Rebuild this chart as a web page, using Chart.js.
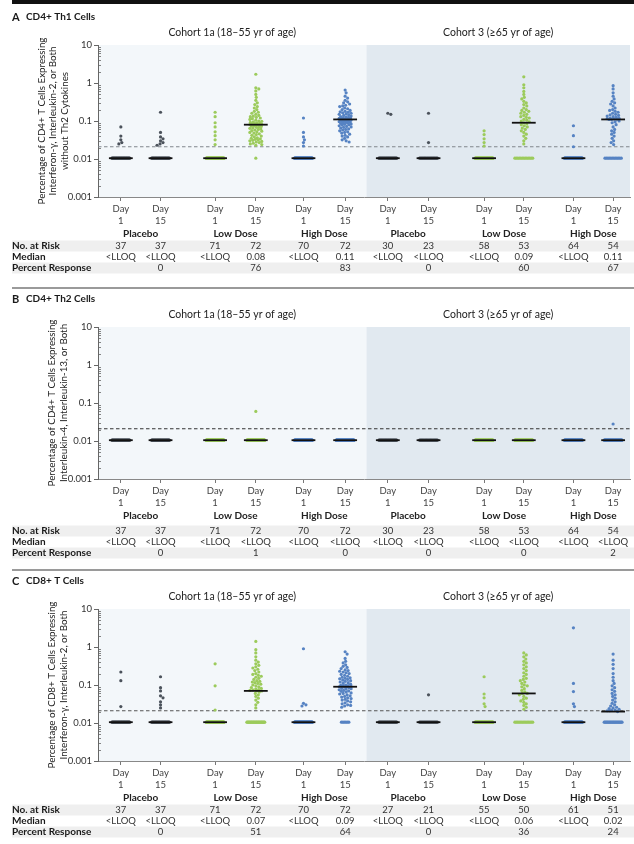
<!DOCTYPE html>
<html><head><meta charset="utf-8">
<script src="https://cdn.jsdelivr.net/npm/chart.js@4/dist/chart.umd.min.js"></script>
<style>
html,body{margin:0;padding:0;background:#fff;}
#wrap{position:relative;width:634px;height:844px;overflow:hidden;}
canvas{position:absolute;left:0;}
</style></head><body>
<div id="wrap">
<canvas id="cA" width="634" height="282" style="top:0px"></canvas>
<canvas id="cB" width="634" height="282" style="top:282px"></canvas>
<canvas id="cC" width="634" height="280" style="top:564px"></canvas>
</div>
<script>
// ---------------- DATA ----------------
const COHORTS = ['Cohort 1a (18\u201355 yr of age)', 'Cohort 3 (\u226565 yr of age)'];
const GROUPS = ['Placebo', 'Low Dose', 'High Dose'];
const DAYS = ['1', '15'];
const Y_TICKS = [0.001, 0.01, 0.1, 1, 10];
const LLOQ = 0.021;        // dashed line
const LLOQ_PLOT = 0.0105;  // level at which <LLOQ values are shown
const ROW_LABELS = ['No. at Risk', 'Median', 'Percent Response'];

// Panel A
const A_TITLE = 'CD4+ Th1 Cells';
const A_YTITLE = ['Percentage of CD4+ T Cells Expressing', 'Interferon-\u03b3, Interleukin-2, or Both', 'without Th2 Cytokines'];
const A_AT_RISK = [37, 37, 71, 72, 70, 72, 30, 23, 58, 53, 64, 54];
const A_MEDIAN = ['<LLOQ', '<LLOQ', '<LLOQ', '0.08', '<LLOQ', '0.11', '<LLOQ', '<LLOQ', '<LLOQ', '0.09', '<LLOQ', '0.11'];
const A_RESPONSE = ['', '0', '', '76', '', '83', '', '0', '', '60', '', '67'];
// values above LLOQ per category (remaining subjects are <LLOQ)
const A_ABOVE = [
  [0.07, 0.04, 0.032, 0.027, 0.025],
  [0.17, 0.05, 0.038, 0.034, 0.03, 0.027, 0.025, 0.023],
  [0.17, 0.13, 0.09, 0.07, 0.052, 0.041, 0.032, 0.024],
  [1.7, 0.75, 0.7, 0.62, 0.5, 0.42, 0.35, 0.3, 0.27, 0.24, 0.22, 0.2, 0.18, 0.17, 0.16, 0.15, 0.14, 0.135, 0.13, 0.125, 0.12, 0.115, 0.11, 0.105, 0.1, 0.098, 0.095, 0.092, 0.09, 0.088, 0.086, 0.084, 0.082, 0.081, 0.08, 0.08,
   0.078, 0.076, 0.074, 0.072, 0.07, 0.068, 0.066, 0.064, 0.062, 0.06, 0.058, 0.056, 0.054, 0.052, 0.05, 0.048, 0.046, 0.044, 0.042, 0.04, 0.038, 0.036, 0.035, 0.034, 0.033, 0.032, 0.031, 0.03, 0.029, 0.028, 0.027, 0.026, 0.025, 0.024, 0.023],
  [0.12, 0.05, 0.038, 0.032, 0.027, 0.022],
  [0.65, 0.55, 0.45, 0.4, 0.35, 0.32, 0.3, 0.28, 0.26, 0.25, 0.24, 0.22, 0.21, 0.2, 0.19, 0.18, 0.175, 0.17, 0.165, 0.16, 0.155, 0.15, 0.145, 0.14, 0.135, 0.13, 0.128, 0.125, 0.122, 0.12, 0.118, 0.116, 0.114, 0.112, 0.11, 0.11,
   0.108, 0.106, 0.104, 0.102, 0.1, 0.098, 0.096, 0.094, 0.092, 0.09, 0.088, 0.086, 0.084, 0.082, 0.08, 0.078, 0.075, 0.072, 0.07, 0.068, 0.065, 0.062, 0.06, 0.058, 0.055, 0.052, 0.05, 0.048, 0.045, 0.042, 0.04, 0.038, 0.035, 0.032, 0.03, 0.028],
  [0.16, 0.15],
  [0.16, 0.027],
  [0.055, 0.044, 0.034, 0.027, 0.022],
  [1.45, 0.9, 0.75, 0.6, 0.5, 0.42, 0.38, 0.33, 0.3, 0.27, 0.25, 0.22, 0.2, 0.19, 0.18, 0.17, 0.16, 0.15, 0.14, 0.13, 0.125, 0.12, 0.11, 0.105, 0.1, 0.095, 0.09,
   0.085, 0.08, 0.075, 0.07, 0.065, 0.06, 0.055, 0.05, 0.045, 0.04, 0.035, 0.03, 0.025],
  [0.075, 0.041, 0.021],
  [0.85, 0.7, 0.55, 0.45, 0.38, 0.33, 0.3, 0.28, 0.25, 0.22, 0.2, 0.19, 0.18, 0.17, 0.16, 0.15, 0.145, 0.14, 0.135, 0.13, 0.125, 0.12, 0.118, 0.115, 0.113, 0.112, 0.11, 0.11,
   0.1, 0.095, 0.09, 0.08, 0.07, 0.06, 0.055, 0.05, 0.045, 0.04, 0.035, 0.03, 0.027, 0.024]
];

// Panel B
const B_TITLE = 'CD4+ Th2 Cells';
const B_YTITLE = ['Percentage of CD4+ T Cells Expressing', 'Interleukin-4, Interleukin-13, or Both'];
const B_AT_RISK = [37, 37, 71, 72, 70, 72, 30, 23, 58, 53, 64, 54];
const B_MEDIAN = ['<LLOQ', '<LLOQ', '<LLOQ', '<LLOQ', '<LLOQ', '<LLOQ', '<LLOQ', '<LLOQ', '<LLOQ', '<LLOQ', '<LLOQ', '<LLOQ'];
const B_RESPONSE = ['', '0', '', '1', '', '0', '', '0', '', '0', '', '2'];
const B_ABOVE = [[], [], [], [0.06], [], [], [], [], [], [], [], [0.028]];

// Panel C
const C_TITLE = 'CD8+ T Cells';
const C_YTITLE = ['Percentage of CD8+ T Cells Expressing', 'Interferon-\u03b3, Interleukin-2, or Both'];
const C_AT_RISK = [37, 37, 71, 72, 70, 72, 27, 21, 55, 50, 61, 51];
const C_MEDIAN = ['<LLOQ', '<LLOQ', '<LLOQ', '0.07', '<LLOQ', '0.09', '<LLOQ', '<LLOQ', '<LLOQ', '0.06', '<LLOQ', '0.02'];
const C_RESPONSE = ['', '0', '', '51', '', '64', '', '0', '', '36', '', '24'];
const C_ABOVE = [
  [0.22, 0.13, 0.027],
  [0.165, 0.085, 0.07, 0.052, 0.046, 0.036, 0.03, 0.025],
  [0.36, 0.095, 0.022],
  [1.4, 0.85, 0.7, 0.55, 0.45, 0.4, 0.36, 0.33, 0.3, 0.28, 0.26, 0.24, 0.22, 0.2, 0.19, 0.18, 0.17, 0.16, 0.15, 0.14, 0.13, 0.125, 0.12, 0.115, 0.11, 0.105, 0.1, 0.095, 0.09, 0.086, 0.082, 0.079, 0.076, 0.074, 0.072, 0.07,
   0.07, 0.065, 0.06, 0.055, 0.05, 0.045, 0.04, 0.035, 0.03, 0.025],
  [0.9, 0.033, 0.03, 0.028],
  [0.75, 0.65, 0.5, 0.42, 0.38, 0.34, 0.31, 0.29, 0.27, 0.25, 0.24, 0.23, 0.22, 0.21, 0.2, 0.19, 0.18, 0.17, 0.16, 0.155, 0.15, 0.145, 0.14, 0.135, 0.13, 0.125, 0.12, 0.115, 0.11, 0.105, 0.1, 0.098, 0.096, 0.094, 0.092, 0.09,
   0.09, 0.088, 0.085, 0.082, 0.08, 0.078, 0.075, 0.072, 0.07, 0.068, 0.065, 0.062, 0.06, 0.058, 0.055, 0.052, 0.05, 0.048, 0.046, 0.044, 0.042, 0.04, 0.038, 0.036, 0.034, 0.032, 0.03, 0.029, 0.028, 0.026],
  [],
  [0.055],
  [0.165, 0.058, 0.046, 0.032, 0.027],
  [0.7, 0.62, 0.55, 0.48, 0.42, 0.38, 0.34, 0.3, 0.27, 0.24, 0.21, 0.19, 0.17, 0.15, 0.14, 0.13, 0.12, 0.11, 0.1, 0.095, 0.09, 0.08, 0.072, 0.066,
   0.06, 0.06, 0.055, 0.05, 0.045, 0.042, 0.038, 0.035, 0.032, 0.029, 0.026, 0.023],
  [3.2, 0.11, 0.067, 0.032, 0.027],
  [0.65, 0.45, 0.35, 0.27, 0.2, 0.16, 0.13, 0.11, 0.095, 0.085, 0.075, 0.068, 0.06, 0.055, 0.05, 0.045, 0.04, 0.036, 0.033, 0.03, 0.028, 0.026, 0.025, 0.024, 0.023, 0.022,
   0.022, 0.021, 0.021, 0.02]
];

// ---------------- LAYOUT / STYLE ----------------
const FONT = 'Lato, "Open Sans", "DejaVu Sans", sans-serif';
const X_MAX = 536;                       // x units == pixels of plot width
const CAT_X = [23, 63, 118, 159, 207, 249, 292, 333, 389, 429, 479, 519]; // category centres
const GROUP_COLORS = ['#4b525b', '#9ccb5c', '#5683c3'];
const BG_LEFT = '#f3f7fa', BG_RIGHT = '#e1e9f0';
const MED_HALF = 12;
const DOT_R = 1.6;
const PX_PER_DECADE = 37.9; // only for collision spacing of the swarm

Chart.defaults.font.family = FONT;

function groupOf(i) { return Math.floor((i % 6) / 2); }

function swarm(vals, nLow, cx) {
  const out = [];
  const placed = [];
  const sorted = vals.slice().sort((a, b) => b - a);
  const DMIN = 2.9;
  for (const v of sorted) {
    const yp = -Math.log10(v) * PX_PER_DECADE;
    let best = 0, bestD = -1;
    for (let k = 0; k <= 24; k++) {
      const dx = (k % 2 ? 1 : -1) * Math.ceil(k / 2) * 0.5;
      let md = Infinity;
      for (const p of placed) {
        const d = Math.hypot(p[0] - dx, p[1] - yp);
        if (d < md) md = d;
      }
      if (md >= DMIN) { best = dx; bestD = md; break; }
      if (md > bestD) { bestD = md; best = dx; }
    }
    placed.push([best, yp]);
    out.push({ x: cx + best, y: v });
  }
  const spread = Math.min(18, 1.5 * Math.max(0, nLow - 1));
  for (let j = 0; j < nLow; j++) {
    const dx = nLow === 1 ? 0 : -spread / 2 + spread * j / (nLow - 1);
    out.push({ x: cx + dx, y: LLOQ_PLOT });
  }
  return out;
}

function buildDatasets(above, atRisk, median, dashColor) {
  const ds = [];
  median.forEach((m, i) => {
    const y = m === '<LLOQ' ? LLOQ_PLOT : parseFloat(m);
    ds.push({ data: [{ x: CAT_X[i] - MED_HALF, y }, { x: CAT_X[i] + MED_HALF, y }],
      showLine: true, borderColor: '#111', borderWidth: 1.8, pointRadius: 0, order: 0 });
  });
  ds.push({ data: [{ x: 0, y: LLOQ }, { x: X_MAX, y: LLOQ }], showLine: true, borderColor: dashColor,
    borderWidth: 1, borderDash: [3.5, 2.5], pointRadius: 0, order: 3 });
  above.forEach((vals, i) => {
    const nLow = atRisk[i] - vals.length;
    ds.push({ data: swarm(vals, nLow, CAT_X[i]), showLine: false, pointRadius: DOT_R,
      pointBackgroundColor: GROUP_COLORS[groupOf(i)], pointBorderWidth: 0, order: 1 });
  });
  return ds;
}

function makePanel(id, cfg) {
  const canvas = document.getElementById(id);
  const H = canvas.height;
  const deco = {
    id: 'deco' + id,
    beforeDraw(chart) {
      const { ctx, chartArea: ca, scales: { x } } = chart;
      ctx.save();
      ctx.fillStyle = '#fff'; ctx.fillRect(0, 0, chart.width, chart.height);
      const split = (x.getPixelForValue(CAT_X[5]) + x.getPixelForValue(CAT_X[6])) / 2;
      ctx.fillStyle = BG_LEFT; ctx.fillRect(ca.left, ca.top, split - ca.left, ca.bottom - ca.top);
      ctx.fillStyle = BG_RIGHT; ctx.fillRect(split, ca.top, ca.right - split, ca.bottom - ca.top);
      ctx.restore();
    },
    afterDraw(chart) {
      const { ctx, chartArea: ca, scales: { x, y } } = chart;
      const split = (x.getPixelForValue(CAT_X[5]) + x.getPixelForValue(CAT_X[6])) / 2;
      ctx.save();
      // top rule
      if (cfg.topBlack) { ctx.fillStyle = '#111'; ctx.fillRect(12, 0, 622, 4); }
      else { ctx.fillStyle = '#9a9a9a'; ctx.fillRect(12, 5, 622, 2); }
      // title
      ctx.fillStyle = '#1a1a1a'; ctx.textBaseline = 'middle'; ctx.textAlign = 'left';
      ctx.font = 'bold 11px ' + FONT; ctx.fillText(cfg.letter, 12, 17);
      ctx.font = 'bold 10px ' + FONT; ctx.fillText(cfg.title, 26, 17);
      // cohort headers
      ctx.font = '10.5px ' + FONT; ctx.textAlign = 'center'; ctx.fillStyle = '#222';
      ctx.fillText(COHORTS[0], (ca.left + split) / 2, 33);
      ctx.fillText(COHORTS[1], (split + ca.right) / 2, 33);
      // y title
      const midY = (ca.top + ca.bottom) / 2;
      ctx.font = '9.8px ' + FONT;
      const n = cfg.yTitle.length;
      cfg.yTitle.forEach((line, j) => {
        ctx.save();
        ctx.translate(cfg.yTitleX - (n - 1 - j) * 11.8, midY);
        ctx.rotate(-Math.PI / 2);
        ctx.fillText(line, 0, 0);
        ctx.restore();
      });
      // minor ticks on log axis
      ctx.strokeStyle = '#666'; ctx.lineWidth = 0.8;
      ctx.beginPath();
      for (let d = 0; d < Y_TICKS.length - 1; d++) {
        for (let k = 2; k <= 9; k++) {
          const py = Math.round(y.getPixelForValue(Y_TICKS[d] * k)) + 0.5;
          ctx.moveTo(ca.left, py); ctx.lineTo(ca.left + 3, py);
        }
      }
      ctx.stroke();
      // group labels
      ctx.font = 'bold 10px ' + FONT; ctx.fillStyle = '#222';
      for (let g = 0; g < 6; g++) {
        const cx = (x.getPixelForValue(CAT_X[2 * g]) + x.getPixelForValue(CAT_X[2 * g + 1])) / 2;
        ctx.fillText(GROUPS[g % 3], cx, ca.bottom + 37);
      }
      // table
      const rows = [cfg.atRisk.map(String), cfg.median, cfg.response];
      rows.forEach((vals, r) => {
        const ry = ca.bottom + cfg.tableOffset + r * 11;
        if (r !== 1) { ctx.fillStyle = '#efefef'; ctx.fillRect(12, ry - 5.5, 622, 11); }
      });
      rows.forEach((vals, r) => {
        const ry = ca.bottom + cfg.tableOffset + r * 11;
        ctx.fillStyle = '#1a1a1a'; ctx.font = 'bold 10px ' + FONT; ctx.textAlign = 'left';
        ctx.fillText(ROW_LABELS[r], 12, ry);
        ctx.fillStyle = '#333'; ctx.font = '9.5px ' + FONT; ctx.textAlign = 'center';
        vals.forEach((v, i) => { if (v !== '') ctx.fillText(v, x.getPixelForValue(CAT_X[i]), ry); });
      });
      ctx.restore();
    }
  };
  return new Chart(canvas, {
    type: 'scatter',
    data: { datasets: buildDatasets(cfg.above, cfg.atRisk, cfg.median, cfg.dashColor) },
    options: {
      responsive: false, animation: false, devicePixelRatio: 1,
      layout: { padding: { top: 45, left: 0, right: 0, bottom: 0 } },
      plugins: { legend: { display: false }, tooltip: { enabled: false } },
      scales: {
        x: {
          type: 'linear', min: 0, max: X_MAX,
          afterFit: s => { s.height = H - 197; },
          afterBuildTicks: s => { s.ticks = CAT_X.map(v => ({ value: v })); },
          grid: { drawOnChartArea: false, drawTicks: true, tickLength: 4, color: '#777' },
          border: { color: '#888', width: 1 },
          ticks: { autoSkip: false, maxRotation: 0, padding: 2, color: '#444',
            font: { size: 9.5, family: FONT, lineHeight: 1.25 },
            callback: (v, i) => ['Day', DAYS[i % 2]] }
        },
        y: {
          type: 'logarithmic', min: 0.001, max: 10,
          afterFit: s => { s.width = 98; },
          afterBuildTicks: s => { s.ticks = Y_TICKS.map(v => ({ value: v })); },
          grid: { drawOnChartArea: false, drawTicks: true, tickLength: 4, color: '#666' },
          border: { color: '#666', width: 1 },
          ticks: { padding: 2, color: '#333', font: { size: 9.5, family: FONT },
            callback: v => String(v) }
        }
      }
    },
    plugins: [deco]
  });
}

makePanel('cA', { letter: 'A', title: A_TITLE, yTitle: A_YTITLE, yTitleX: 65, atRisk: A_AT_RISK, median: A_MEDIAN,
  response: A_RESPONSE, above: A_ABOVE, topBlack: true, dashColor: '#80868d', tableOffset: 49 });
makePanel('cB', { letter: 'B', title: B_TITLE, yTitle: B_YTITLE, yTitleX: 64, atRisk: B_AT_RISK, median: B_MEDIAN,
  response: B_RESPONSE, above: B_ABOVE, topBlack: false, dashColor: '#333', tableOffset: 52 });
makePanel('cC', { letter: 'C', title: C_TITLE, yTitle: C_YTITLE, yTitleX: 64, atRisk: C_AT_RISK, median: C_MEDIAN,
  response: C_RESPONSE, above: C_ABOVE, topBlack: false, dashColor: '#555', tableOffset: 49 });
</script>
</body></html>
